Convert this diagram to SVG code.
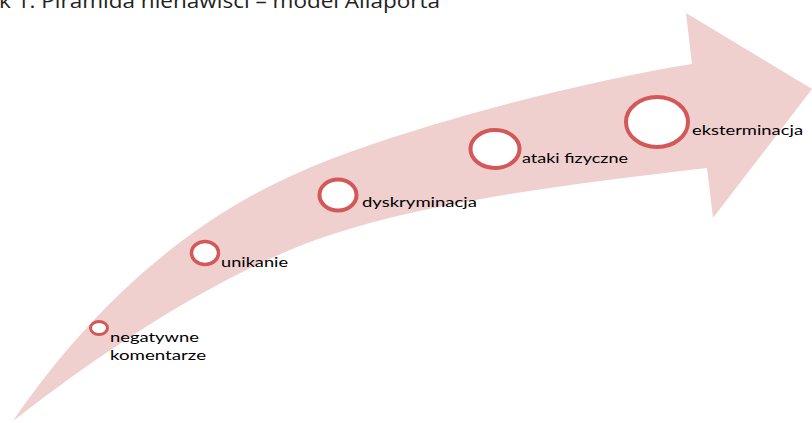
<svg xmlns="http://www.w3.org/2000/svg" width="812" height="423" viewBox="0 0 812 423">
<style>
.lbl{font-family:Lato,"Open Sans","Liberation Sans",sans-serif;font-size:14px;fill:#000}
.ring{fill:#fff;stroke:#d35858;stroke-width:4}
.title{font-family:"Open Sans","Liberation Sans",sans-serif;font-size:20px;fill:#222}
</style>
<rect width="812" height="423" fill="#fff"/>
<text class="title" x="-1" y="7.5" textLength="441" lengthAdjust="spacingAndGlyphs">k 1. Piramida nienawiści – model Allaporta</text>
<g id="arrow">
<path d="M13,421 C75,330 170,228 300,172 C380,136 560,85 692,64 L686,13 L812,89 L713,218 L707,168 C560,185 430,202 330,235 C230,268 113,343 13,421 Z" fill="#f0cfcf"/>
</g>
<g id="n1"><ellipse class="ring" cx="99" cy="328" rx="8.5" ry="6.5" style="stroke-width:3"/>
<text class="lbl" x="110" y="342" textLength="89" lengthAdjust="spacingAndGlyphs">negatywne</text>
<text class="lbl" x="110" y="360" textLength="96" lengthAdjust="spacingAndGlyphs">komentarze</text></g>
<g id="n2"><ellipse class="ring" cx="205" cy="253" rx="13.5" ry="11.5" style="stroke-width:3.5"/>
<text class="lbl" x="221" y="267" textLength="67" lengthAdjust="spacingAndGlyphs">unikanie</text></g>
<g id="n3"><ellipse class="ring" cx="338" cy="195" rx="18.5" ry="15.5"/>
<text class="lbl" x="362" y="207" textLength="115" lengthAdjust="spacingAndGlyphs">dyskryminacja</text></g>
<g id="n4"><ellipse class="ring" cx="495" cy="149" rx="24.5" ry="19"/>
<text class="lbl" x="522" y="163" textLength="106" lengthAdjust="spacingAndGlyphs">ataki fizyczne</text></g>
<g id="n5"><ellipse class="ring" cx="657" cy="122" rx="31" ry="25"/>
<text class="lbl" x="692" y="135" textLength="111" lengthAdjust="spacingAndGlyphs">eksterminacja</text></g>
<g id="connectors"></g>
</svg>
